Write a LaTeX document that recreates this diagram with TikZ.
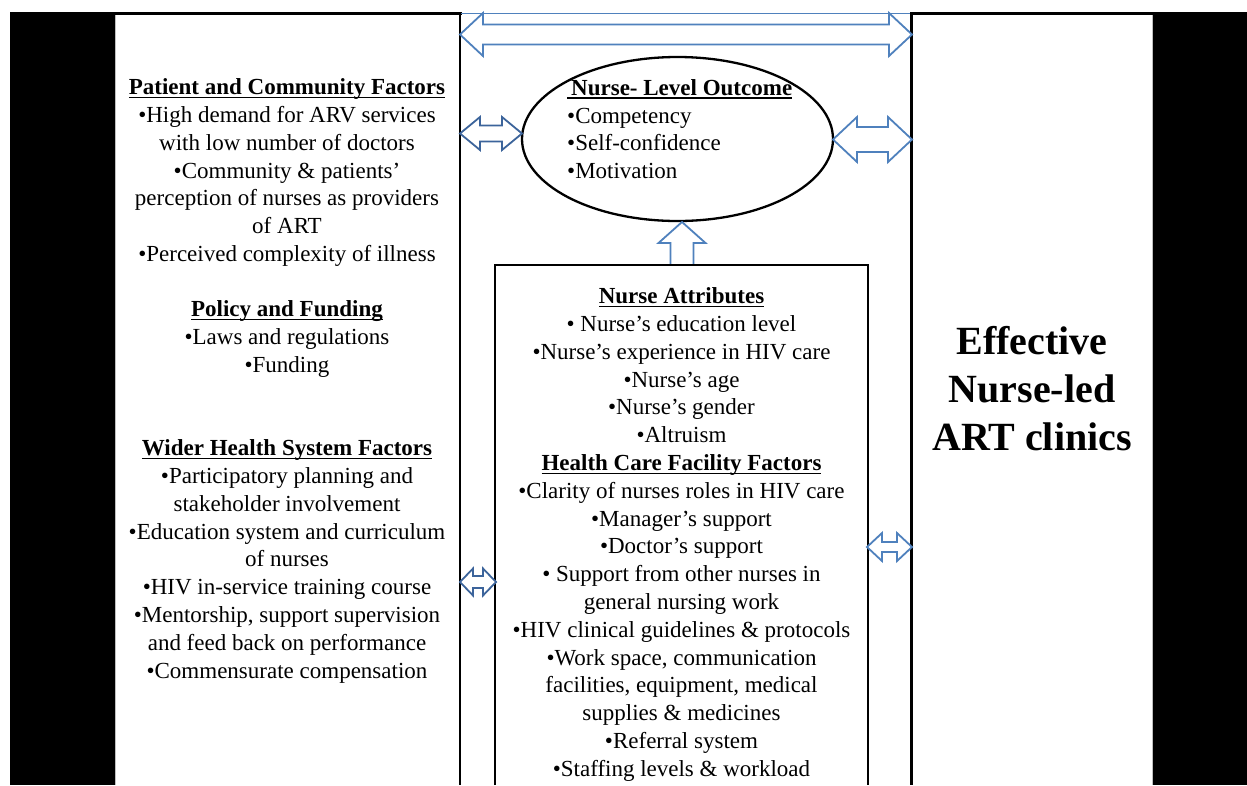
\documentclass[tikz,border=0pt]{standalone}
\usepackage{fontspec}
\setmainfont{Liberation Serif}
\usetikzlibrary{calc,shapes.geometric}
\definecolor{arrA}{RGB}{79,129,189}
\definecolor{arrB}{RGB}{60,100,155}
\newcommand\myul[1]{\setbox0\hbox{#1}\rlap{\rule[-3.4pt]{\wd0}{1.3pt}}\box0}
\newcommand\fs{\rule{0pt}{20pt}}
\newcommand\fb{\rule{0pt}{38pt}}
% #1 style, #2 left tip, #3 right tip, #4 half shaft, #5 half head, #6 head length
\newcommand\blockarrow[6]{%
  \draw[#1] (#2) -- ($(#2)+(#6,-#5)$) -- ($(#2)+(#6,-#4)$) -- ($(#3)+(-#6,-#4)$)
    -- ($(#3)+(-#6,-#5)$) -- (#3) -- ($(#3)+(-#6,#5)$) -- ($(#3)+(-#6,#4)$)
    -- ($(#2)+(#6,#4)$) -- ($(#2)+(#6,#5)$) -- cycle;}
\begin{document}
\begin{tikzpicture}[x=1pt,y=-1pt,
  frame/.style={line width=2.4pt, black},
  blkA/.style={draw=arrA, fill=white, line width=1.8pt, line join=miter},
  blkB/.style={draw=arrB, fill=white, line width=1.8pt, line join=miter},
  txt/.style={font=\fontsize{23}{27.8}\selectfont, align=center, inner sep=0pt, anchor=north},
  big/.style={font=\fontsize{40}{48}\selectfont\bfseries, align=center, inner sep=0pt, anchor=north}]
\useasboundingbox (0,0) rectangle (1247,785);
\fill[white] (0,0) rectangle (1247,785);
\fill[black] (10,12.3) rectangle (1247,785);
\fill[white] (115,15.3) rectangle (1152.5,785);
\fill[white] (461.5,11) rectangle (910,15.3);
\draw[gray!50, line width=0.8pt] (115.4,15.3) -- (115.4,785) (1152.2,15.3) -- (1152.2,785);
\draw[arrA, line width=1.4pt] (460,13.4) -- (912,13.4);
% column lines
\coordinate (cL1) at (460,12.3); \coordinate (cL2) at (460,785);
\coordinate (cR1) at (911.5,12.3); \coordinate (cR2) at (911.5,785);
\draw[frame] (cL1) -- (cL2);
\draw[frame] (cR1) -- (cR2);
% outcome ellipse
\node[draw, ellipse, line width=2.3pt, minimum width=311pt, minimum height=164pt, inner sep=0pt] (outc) at (677.5,139) {};
% nurse / facility box
\coordinate (bx1) at (495,785); \coordinate (bx2) at (495,265);
\coordinate (bx3) at (868,265); \coordinate (bx4) at (868,785);
% up arrow
\coordinate (upT) at (682,222); \coordinate (upB) at (682,265);
\draw[blkA] (upT) -- ($(upT)+(23.5,21)$) -- ($(upT)+(11.5,21)$) -- ($(upB)+(11.5,0)$)
  -- ($(upB)+(-11.5,0)$) -- ($(upT)+(-11.5,21)$) -- ($(upT)+(-23.5,21)$) -- cycle;
\draw[line width=2.6pt] (bx1) -- (bx2) -- (bx3) -- (bx4);
% double block arrows
\coordinate (tA1) at (460,34.5); \coordinate (tA2) at (912,34.5);
\blockarrow{blkA}{tA1}{tA2}{10}{21.5}{23}
\coordinate (eL1) at (460,133.5); \coordinate (eL2) at (522,133.5);
\blockarrow{blkB}{eL1}{eL2}{8}{16.5}{20}
\coordinate (eR1) at (833,139.5); \coordinate (eR2) at (912,139.5);
\blockarrow{blkA}{eR1}{eR2}{12.5}{22.5}{24}
\coordinate (sR1) at (867,547); \coordinate (sR2) at (912,547);
\blockarrow{blkA}{sR1}{sR2}{5}{14}{15}
\coordinate (sL1) at (460,582); \coordinate (sL2) at (496,582);
\blockarrow{blkB}{sL1}{sL2}{6}{13.5}{13}
% left column
\node[txt] (pcf) at (287,74.5) {\fs\myul{\textbf{Patient and Community Factors}}\\
  •High demand for ARV services\\ with low number of doctors\\
  •Community \& patients’\\ perception of nurses as providers\\ of ART\\
  •Perceived complexity of illness};
\node[txt] (pf) at (287,296.5) {\fs\myul{\textbf{Policy and Funding}}\\
  •Laws and regulations\\ •Funding};
\node[txt] (whs) at (287,435.5) {\fs\myul{\textbf{Wider Health System Factors}}\\
  •Participatory planning and\\ stakeholder involvement\\
  •Education system and curriculum\\ of nurses\\
  •HIV in-service training course\\
  •Mentorship, support supervision\\ and feed back on performance\\
  •Commensurate compensation};
% ellipse text
\node[txt, align=left, anchor=north west] (nlo) at (567,75) {\fs\myul{\textbf{\hspace{4pt}Nurse- Level Outcome}}\\
  •Competency\\ •Self-confidence\\ •Motivation};
% box text
\node[txt] (na) at (681.5,283.5) {\fs\myul{\textbf{Nurse Attributes}}\\
  • Nurse’s education level\\ •Nurse’s experience in HIV care\\
  •Nurse’s age\\ •Nurse’s gender\\ •Altruism\\
  \myul{\textbf{Health Care Facility Factors}}\\
  •Clarity of nurses roles in HIV care\\ •Manager’s support\\
  •Doctor’s support\\ • Support from other nurses in\\ general nursing work\\
  •HIV clinical guidelines \& protocols\\ •Work space, communication\\
  facilities, equipment, medical\\ supplies \& medicines\\
  •Referral system\\ •Staffing levels \& workload};
% right text
\node[big] (eff) at (1032,316) {\fb Effective\\ Nurse-led\\ ART clinics};
\end{tikzpicture}
\end{document}
